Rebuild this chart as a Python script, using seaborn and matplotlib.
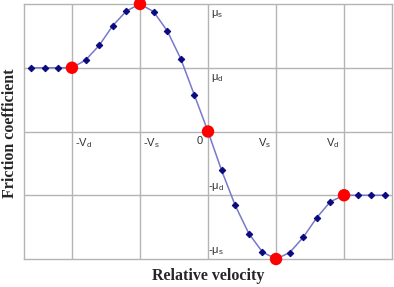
import numpy as np
import pandas as pd
import seaborn as sns
import matplotlib
matplotlib.use("Agg")
import matplotlib.pyplot as plt

# Curve samples (relative velocity in units of Vs, friction in units of mu_d)
velocity = [-2.6, -2.4, -2.2, -2.0, -1.8, -1.6, -1.4, -1.2, -1.0, -0.8, -0.6, -0.4, -0.2,
            0.0, 0.2, 0.4, 0.6, 0.8, 1.0, 1.2, 1.4, 1.6, 1.8, 2.0, 2.2, 2.4, 2.6]
friction = [1.0, 1.0, 1.0, 1.0, 1.12, 1.35, 1.66, 1.89, 2.0, 1.88, 1.58, 1.14, 0.57,
            0.0, -0.61, -1.16, -1.6, -1.89, -2.0, -1.9, -1.66, -1.35, -1.1, -1.0, -1.0, -1.0, -1.0]

# Key points (red)
key_velocity = [-2.0, -1.0, 0.0, 1.0, 2.0]
key_friction = [1.0, 2.0, 0.0, -2.0, -1.0]

# Tick labels drawn inside the plot
x_ticks = [-2, -1, 0, 1, 2]
x_labels = [r"-V$_\mathregular{d}$", r"-V$_\mathregular{s}$", "0",
            r"V$_\mathregular{s}$", r"V$_\mathregular{d}$"]
y_ticks = [2, 1, -1, -2]
y_labels = [r"μ$_\mathregular{s}$", r"μ$_\mathregular{d}$",
            r"-μ$_\mathregular{d}$", r"-μ$_\mathregular{s}$"]

df = pd.DataFrame({"v": velocity, "f": friction})
df_key = pd.DataFrame({"v": key_velocity, "f": key_friction})

sns.set_style("white")
plt.rcParams["font.family"] = ["Liberation Sans", "DejaVu Sans"]
plt.rcParams["mathtext.fontset"] = "custom"
plt.rcParams["mathtext.rm"] = "Liberation Sans"

fig = plt.figure(figsize=(3.94, 2.87), dpi=100)
ax = fig.add_axes([24 / 394, 1 - 259 / 287, 368 / 394, 255 / 287])

grid_col = "#b4b4b4"
ax.set_xlim(-2.705, 2.705)
ax.set_ylim(-2, 2)
ax.set_xticks(x_ticks)
ax.set_yticks([-1, 0, 1])
ax.set_xticklabels([])
ax.set_yticklabels([])
ax.tick_params(length=0)
ax.grid(True, color=grid_col, linewidth=1)
for s in ax.spines.values():
    s.set_color(grid_col)
    s.set_linewidth(1)

sns.lineplot(data=df, x="v", y="f", ax=ax, color="#7878cc", linewidth=1.1,
             marker="D", markersize=3.3, markerfacecolor="#0a0a80",
             markeredgecolor="#0a0a80", zorder=3)
sns.scatterplot(data=df_key, x="v", y="f", ax=ax, color="#ff0000", s=80,
                edgecolor="none", zorder=4, clip_on=False)

# x tick labels just below the zero line
for xv, lab in zip(x_ticks, x_labels):
    if xv < 0:
        ax.text(xv + 0.04, -0.07, lab, ha="left", va="top", fontsize=8, color="#333333")
    else:
        ax.text(xv - 0.07, -0.07, lab, ha="right", va="top", fontsize=8, color="#333333")

# y tick labels along the zero velocity line
for yv, lab in zip(y_ticks, y_labels):
    if yv > 0:
        ax.text(0.04, yv - 0.06, lab, ha="left", va="top", fontsize=8, color="#333333")
    else:
        ax.text(0.0, yv + 0.03, lab, ha="left", va="bottom", fontsize=8, color="#333333")

ax.set_xlabel("")
ax.set_ylabel("")
fig.text(208 / 394, 1 - 276 / 287, "Relative velocity", ha="center", va="center",
         fontsize=11.5, fontweight="bold", family="Liberation Serif")
fig.text(10 / 394, 1 - 133 / 287, "Friction coefficient", ha="center", va="center",
         rotation=90, fontsize=11.5, fontweight="bold", family="Liberation Serif")

fig.savefig("out.png", dpi=100)
